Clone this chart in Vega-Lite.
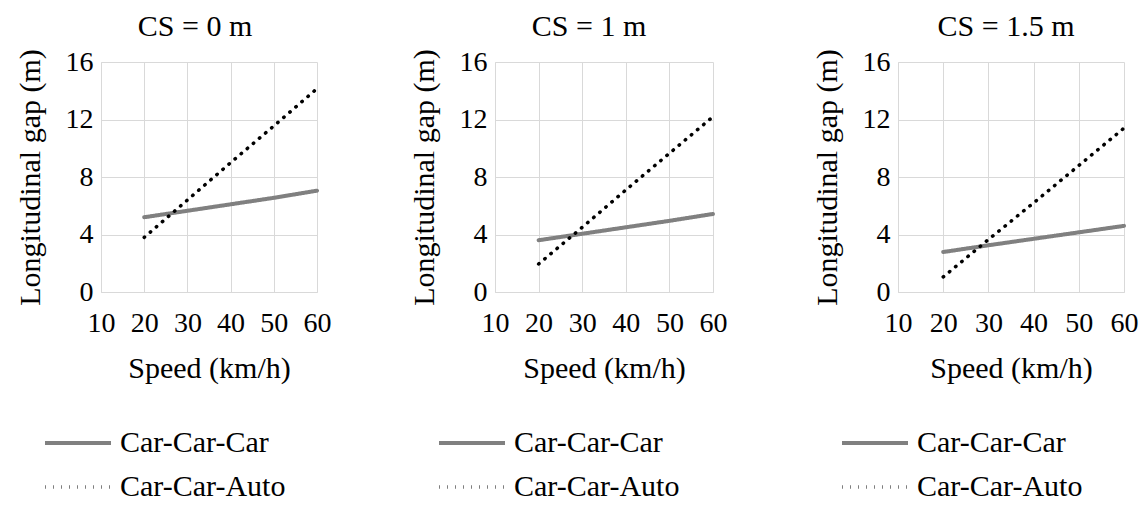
{
  "$schema": "https://vega.github.io/schema/vega-lite/v6.json",
  "padding": {"left": 14, "top": 12, "right": 5, "bottom": 3},
  "config": {
    "view": {"stroke": null},
    "style": {"guide-label": {"font": "Liberation Serif"}, "guide-title": {"font": "Liberation Serif"}},
    "axis": {"grid": true, "gridColor": "#d9d9d9", "gridWidth": 1, "domainColor": "#d9d9d9", "domainWidth": 1, "ticks": false,
      "labelFontSize": 28, "labelColor": "#000000", "labelPadding": 8,
      "labelOverlap": false, "labelFlush": false, "labelBound": false,
      "titleFontSize": 30, "titleFontWeight": "normal", "titleColor": "#000000"},
    "axisY": {"titlePadding": 20},
    "axisX": {"titlePadding": 16, "labelPadding": 17},
    "title": {"font": "Liberation Serif", "fontSize": 30, "fontWeight": "normal", "color": "#000000", "anchor": "middle", "offset": 6},
    "legend": {"orient": "bottom", "direction": "vertical", "labelFontSize": 30, "labelColor": "#000000", "labelLimit": 400,
      "symbolType": "M-3,0H3", "symbolSize": 484, "symbolOffset": -38, "labelOffset": 27, "rowPadding": 14, "padding": 0, "offset": 45}
  },
  "datasets": {
    "d": [
      {"panel": "CS = 0 m", "series": "Car-Car-Car", "speed": 20, "gap": 5.2},
      {"panel": "CS = 0 m", "series": "Car-Car-Car", "speed": 30, "gap": 5.65},
      {"panel": "CS = 0 m", "series": "Car-Car-Car", "speed": 40, "gap": 6.1},
      {"panel": "CS = 0 m", "series": "Car-Car-Car", "speed": 50, "gap": 6.55},
      {"panel": "CS = 0 m", "series": "Car-Car-Car", "speed": 60, "gap": 7.05},
      {"panel": "CS = 0 m", "series": "Car-Car-Auto", "speed": 20, "gap": 3.8},
      {"panel": "CS = 0 m", "series": "Car-Car-Auto", "speed": 30, "gap": 6.4},
      {"panel": "CS = 0 m", "series": "Car-Car-Auto", "speed": 40, "gap": 9.0},
      {"panel": "CS = 0 m", "series": "Car-Car-Auto", "speed": 50, "gap": 11.55},
      {"panel": "CS = 0 m", "series": "Car-Car-Auto", "speed": 60, "gap": 14.15},
      {"panel": "CS = 1 m", "series": "Car-Car-Car", "speed": 20, "gap": 3.6},
      {"panel": "CS = 1 m", "series": "Car-Car-Car", "speed": 30, "gap": 4.05},
      {"panel": "CS = 1 m", "series": "Car-Car-Car", "speed": 40, "gap": 4.5},
      {"panel": "CS = 1 m", "series": "Car-Car-Car", "speed": 50, "gap": 4.95},
      {"panel": "CS = 1 m", "series": "Car-Car-Car", "speed": 60, "gap": 5.43},
      {"panel": "CS = 1 m", "series": "Car-Car-Auto", "speed": 20, "gap": 1.95},
      {"panel": "CS = 1 m", "series": "Car-Car-Auto", "speed": 30, "gap": 4.5},
      {"panel": "CS = 1 m", "series": "Car-Car-Auto", "speed": 40, "gap": 7.1},
      {"panel": "CS = 1 m", "series": "Car-Car-Auto", "speed": 50, "gap": 9.65},
      {"panel": "CS = 1 m", "series": "Car-Car-Auto", "speed": 60, "gap": 12.2},
      {"panel": "CS = 1.5 m", "series": "Car-Car-Car", "speed": 20, "gap": 2.78},
      {"panel": "CS = 1.5 m", "series": "Car-Car-Car", "speed": 30, "gap": 3.25},
      {"panel": "CS = 1.5 m", "series": "Car-Car-Car", "speed": 40, "gap": 3.7},
      {"panel": "CS = 1.5 m", "series": "Car-Car-Car", "speed": 50, "gap": 4.15},
      {"panel": "CS = 1.5 m", "series": "Car-Car-Car", "speed": 60, "gap": 4.6},
      {"panel": "CS = 1.5 m", "series": "Car-Car-Auto", "speed": 20, "gap": 1.05},
      {"panel": "CS = 1.5 m", "series": "Car-Car-Auto", "speed": 30, "gap": 3.65},
      {"panel": "CS = 1.5 m", "series": "Car-Car-Auto", "speed": 40, "gap": 6.2},
      {"panel": "CS = 1.5 m", "series": "Car-Car-Auto", "speed": 50, "gap": 8.8},
      {"panel": "CS = 1.5 m", "series": "Car-Car-Auto", "speed": 60, "gap": 11.4}
    ]
  },
  "spacing": 77,
  "resolve": {
    "scale": {"color": "independent", "strokeDash": "independent", "strokeWidth": "independent"},
    "legend": {"color": "independent", "strokeDash": "independent", "strokeWidth": "independent"}
  },
  "hconcat": [
    {
      "width": 216, "height": 230,
      "title": {"text": "CS = 0 m", "dx": -14},
      "data": {"name": "d"},
      "transform": [{"filter": "datum.panel == 'CS = 0 m'"}],
      "mark": {"type": "line", "strokeCap": "round"},
      "encoding": {
        "x": {"field": "speed", "type": "quantitative", "scale": {"domain": [10, 60], "nice": false}, "axis": {"values": [10, 20, 30, 40, 50, 60], "title": "Speed (km/h)", "labelFont": "Liberation Serif", "titleFont": "Times New Roman"}},
        "y": {"field": "gap", "type": "quantitative", "scale": {"domain": [0, 16], "nice": false}, "axis": {"values": [0, 4, 8, 12, 16], "title": "Longitudinal gap (m)", "labelFont": "serif", "titleFont": "Liberation Serif"}},
        "color": {"field": "series", "type": "nominal", "scale": {"domain": ["Car-Car-Car", "Car-Car-Auto"], "range": ["#808080", "#000000"]}, "legend": {"title": null, "labelFont": "Liberation Serif"}},
        "strokeDash": {"field": "series", "type": "nominal", "scale": {"domain": ["Car-Car-Car", "Car-Car-Auto"], "range": [[1, 0], [0.5, 7.5]]}, "legend": {"title": null, "labelFont": "Liberation Serif"}},
        "strokeWidth": {"field": "series", "type": "nominal", "scale": {"domain": ["Car-Car-Car", "Car-Car-Auto"], "range": [4, 3.5]}, "legend": {"title": null, "labelFont": "Liberation Serif"}}
      }
    },
    {
      "spacing": 84,
      "resolve": {
        "scale": {"color": "independent", "strokeDash": "independent", "strokeWidth": "independent"},
        "legend": {"color": "independent", "strokeDash": "independent", "strokeWidth": "independent"}
      },
      "hconcat": [
        {
          "width": 218, "height": 230,
          "title": {"text": "CS = 1 m", "dx": -15},
          "data": {"name": "d"},
          "transform": [{"filter": "datum.panel == 'CS = 1 m'"}],
          "mark": {"type": "line", "strokeCap": "round"},
          "encoding": {
            "x": {"field": "speed", "type": "quantitative", "scale": {"domain": [10, 60], "nice": false}, "axis": {"values": [10, 20, 30, 40, 50, 60], "title": "Speed (km/h)", "labelFont": "Liberation Serif", "titleFont": "Times New Roman"}},
            "y": {"field": "gap", "type": "quantitative", "scale": {"domain": [0, 16], "nice": false}, "axis": {"values": [0, 4, 8, 12, 16], "title": "Longitudinal gap (m)", "labelFont": "serif", "titleFont": "Liberation Serif"}},
            "color": {"field": "series", "type": "nominal", "scale": {"domain": ["Car-Car-Car", "Car-Car-Auto"], "range": ["#808080", "#000000"]}, "legend": {"title": null, "labelFont": "Liberation Serif"}},
            "strokeDash": {"field": "series", "type": "nominal", "scale": {"domain": ["Car-Car-Car", "Car-Car-Auto"], "range": [[1, 0], [0.5, 7.5]]}, "legend": {"title": null, "labelFont": "Liberation Serif"}},
            "strokeWidth": {"field": "series", "type": "nominal", "scale": {"domain": ["Car-Car-Car", "Car-Car-Auto"], "range": [4, 3.5]}, "legend": {"title": null, "labelFont": "Liberation Serif"}}
          }
        },
        {
          "width": 226, "height": 230,
          "title": {"text": "CS = 1.5 m", "dx": -5},
          "data": {"name": "d"},
          "transform": [{"filter": "datum.panel == 'CS = 1.5 m'"}],
          "mark": {"type": "line", "strokeCap": "round"},
          "encoding": {
            "x": {"field": "speed", "type": "quantitative", "scale": {"domain": [10, 60], "nice": false}, "axis": {"values": [10, 20, 30, 40, 50, 60], "title": "Speed (km/h)", "labelFont": "Liberation Serif", "titleFont": "Times New Roman"}},
            "y": {"field": "gap", "type": "quantitative", "scale": {"domain": [0, 16], "nice": false}, "axis": {"values": [0, 4, 8, 12, 16], "title": "Longitudinal gap (m)", "labelFont": "serif", "titleFont": "Liberation Serif"}},
            "color": {"field": "series", "type": "nominal", "scale": {"domain": ["Car-Car-Car", "Car-Car-Auto"], "range": ["#808080", "#000000"]}, "legend": {"title": null, "labelFont": "Liberation Serif"}},
            "strokeDash": {"field": "series", "type": "nominal", "scale": {"domain": ["Car-Car-Car", "Car-Car-Auto"], "range": [[1, 0], [0.5, 7.5]]}, "legend": {"title": null, "labelFont": "Liberation Serif"}},
            "strokeWidth": {"field": "series", "type": "nominal", "scale": {"domain": ["Car-Car-Car", "Car-Car-Auto"], "range": [4, 3.5]}, "legend": {"title": null, "labelFont": "Liberation Serif"}}
          }
        }
      ]
    }
  ]
}
